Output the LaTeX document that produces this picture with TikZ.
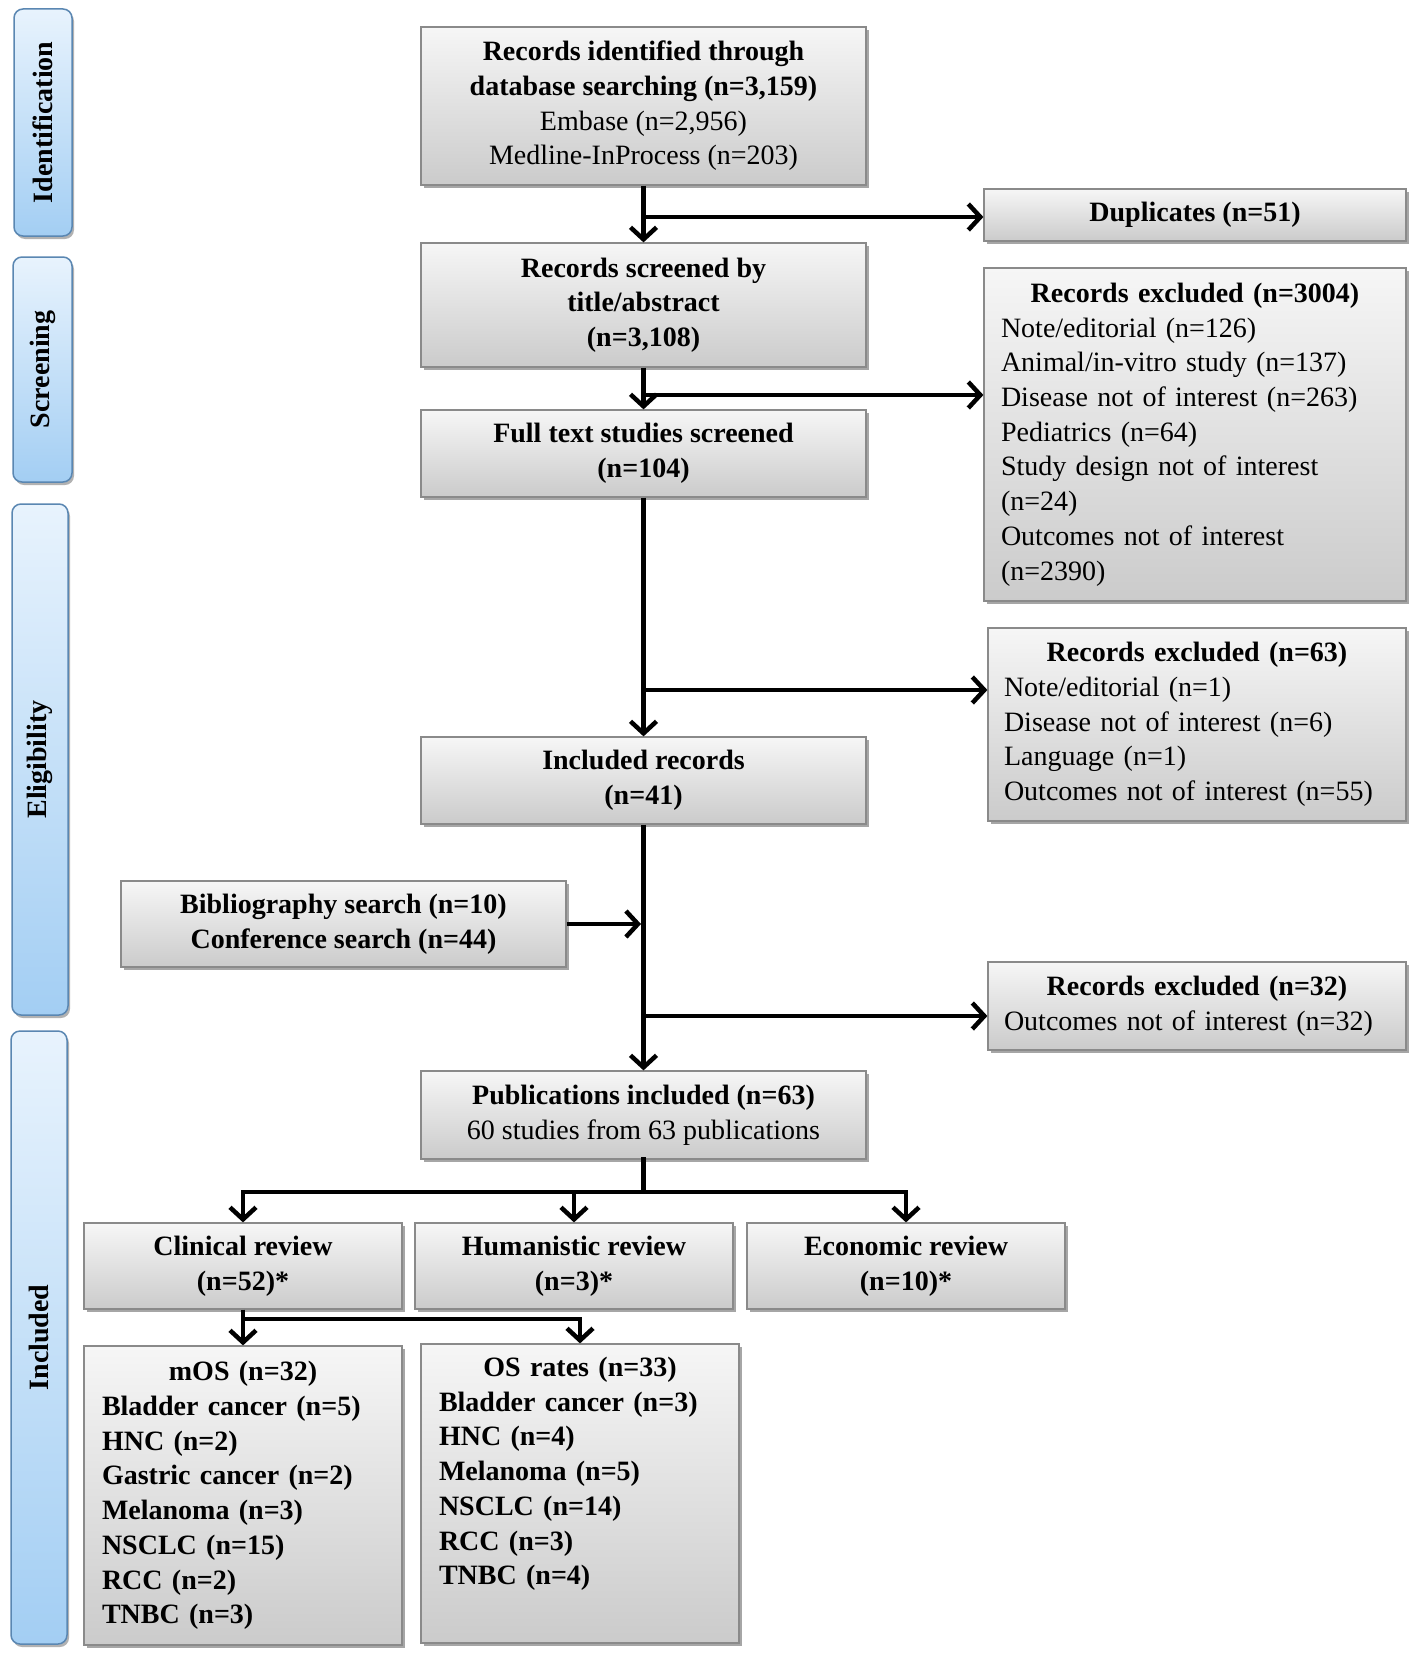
\documentclass[tikz,border=0pt]{standalone}
\usepackage{fontspec}
\setmainfont{Liberation Serif}
\usetikzlibrary{arrows.meta,shadows}
\definecolor{boxtop}{HTML}{F6F6F6}
\definecolor{boxbot}{HTML}{CBCBCB}
\definecolor{boxline}{HTML}{8A8A8A}
\definecolor{tabtop}{HTML}{E8F3FD}
\definecolor{tabbot}{HTML}{A3CEF3}
\definecolor{tabline}{HTML}{5A87B2}
\tikzset{
  fs/.style={font=\fontsize{28}{34.7}\selectfont},
  box/.style={fs, draw=boxline, line width=1.2pt, top color=boxtop, bottom color=boxbot,
    drop shadow={shadow xshift=3pt, shadow yshift=-3pt, fill=black, opacity=0.35},
    align=center, inner sep=0pt},
  listbox/.style={box, align=left},
  tab/.style={fs, draw=tabline, line width=1.5pt, top color=tabtop, bottom color=tabbot,
    rounded corners=9pt, drop shadow={shadow xshift=2pt, shadow yshift=-3pt, fill=black, opacity=0.3},
    inner sep=0pt},
  line/.style={line width=4.5pt, line cap=rect},
  conn/.style={line width=4.5pt, -{Straight Barb[length=12pt,width=26pt]}},
}
\begin{document}
\begin{tikzpicture}[x=1pt,y=-1pt]
\hyphenpenalty=10000
\fill[white] (0,0) rectangle (1417,1662);

% stage tabs
\node[tab, minimum width=58, minimum height=227] (idtab) at (43,122.5) {\rotatebox{90}{\textbf{Identification}}};
\node[tab, minimum width=59, minimum height=225] (sctab) at (42.5,369.5) {\rotatebox{90}{\textbf{Screening}}};
\node[tab, minimum width=56, minimum height=511] (eltab) at (40,759.5) {\rotatebox{90}{\textbf{Eligibility}}};
\node[tab, minimum width=56, minimum height=613] (intab) at (39,1337.5) {\rotatebox{90}{\textbf{Included}}};

% main column
\node[box, minimum width=445, minimum height=158] (top) at (643.5,106)
  {\textbf{Records identified through}\\ \textbf{database searching (n=3,159)}\\ Embase (n=2,956)\\ Medline-InProcess (n=203)};
\node[box, minimum width=445, minimum height=124] (scr) at (643.5,305)
  {\textbf{Records screened by}\\ \textbf{title/abstract}\\ \textbf{(n=3,108)}};
\node[box, minimum width=445, minimum height=87] (full) at (643.5,453.5)
  {\textbf{Full text studies screened}\\ \textbf{(n=104)}};
\node[box, minimum width=445, minimum height=87] (incl) at (643.5,780.5)
  {\textbf{Included records}\\ \textbf{(n=41)}};
\node[box, minimum width=445, minimum height=86] (bib) at (343.5,924)
  {\textbf{Bibliography search (n=10)}\\ \textbf{Conference search (n=44)}};
\node[box, minimum width=445, minimum height=88] (pub) at (643.5,1115)
  {\textbf{Publications included (n=63)}\\ 60 studies from 63 publications};

% right column
\node[box, minimum width=422, minimum height=52] (dup) at (1195,215) {\textbf{Duplicates (n=51)}};
\node[listbox, minimum width=422, minimum height=333, text width=388pt] (ex1) at (1195,434.5)
  {\makebox[\linewidth]{\textbf{Records excluded (n=3004)}}\\
   Note/editorial (n=126)\\
   Animal/in-vitro study (n=137)\\
   Disease not of interest (n=263)\\
   Pediatrics (n=64)\\
   Study design not of interest\\
   (n=24)\\
   Outcomes not of interest\\
   (n=2390)};
\node[listbox, minimum width=418, minimum height=193, text width=386pt] (ex2) at (1197,724.5)
  {\makebox[\linewidth]{\textbf{Records excluded (n=63)}}\\
   Note/editorial (n=1)\\
   Disease not of interest (n=6)\\
   Language (n=1)\\
   Outcomes not of interest (n=55)};
\node[listbox, minimum width=418, minimum height=88, text width=386pt] (ex3) at (1197,1006)
  {\makebox[\linewidth]{\textbf{Records excluded (n=32)}}\\
   Outcomes not of interest (n=32)};

% reviews
\node[box, minimum width=318, minimum height=86] (clin) at (243,1266) {\textbf{Clinical review}\\ \textbf{(n=52)*}};
\node[box, minimum width=318, minimum height=86] (hum) at (574,1266) {\textbf{Humanistic review}\\ \textbf{(n=3)*}};
\node[box, minimum width=318, minimum height=86] (econ) at (906,1266) {\textbf{Economic review}\\ \textbf{(n=10)*}};

\node[listbox, minimum width=318, minimum height=299, text width=282pt] (mos) at (243,1495.5)
  {\makebox[\linewidth]{\textbf{mOS (n=32)}}\\
   \textbf{Bladder cancer (n=5)}\\
   \textbf{HNC (n=2)}\\
   \textbf{Gastric cancer (n=2)}\\
   \textbf{Melanoma (n=3)}\\
   \textbf{NSCLC (n=15)}\\
   \textbf{RCC (n=2)}\\
   \textbf{TNBC (n=3)}};
\node[listbox, minimum width=318, minimum height=299, text width=282pt] (osr) at (580,1493.5)
  {\makebox[\linewidth]{\textbf{OS rates (n=33)}}\\
   \textbf{Bladder cancer (n=3)}\\
   \textbf{HNC (n=4)}\\
   \textbf{Melanoma (n=5)}\\
   \textbf{NSCLC (n=14)}\\
   \textbf{RCC (n=3)}\\
   \textbf{TNBC (n=4)}\\ \strut};

% connectors
\coordinate (j1) at (643.5,217);
\coordinate (j2) at (643.5,395);
\coordinate (j3) at (643.5,690);
\coordinate (j4) at (641,924);
\coordinate (j5) at (643.5,1016);
\coordinate (j6) at (643.5,1192);
\coordinate (j6l) at (clin.north |- j6);
\coordinate (j6m) at (hum.north |- j6);
\coordinate (j6r) at (econ.north |- j6);
\coordinate (j7l) at (243,1319);
\coordinate (j7r) at (osr.north |- j7l);

\draw[conn] (top.south) -- (scr.north);
\draw[conn] (j1) -- (j1 -| dup.west);
\draw[conn] (scr.south) -- (full.north);
\draw[conn] (j2) -- (j2 -| ex1.west);
\draw[conn] (full.south) -- (incl.north);
\draw[conn] (j3) -- (j3 -| ex2.west);
\draw[conn] (incl.south) -- (pub.north);
\draw[conn] (bib.east) -- (j4);
\draw[conn] (j5) -- (j5 -| ex3.west);

\draw[line] (pub.south) -- (j6);
\draw[line] (j6l) -- (j6r);
\draw[conn] (j6l) -- (clin.north);
\draw[conn] (j6m) -- (hum.north);
\draw[conn] (j6r) -- (econ.north);

\draw[conn] (clin.south) -- (mos.north);
\draw[line] (j7l) -- (j7r);
\draw[conn] (j7r) -- (osr.north);
\end{tikzpicture}
\end{document}
